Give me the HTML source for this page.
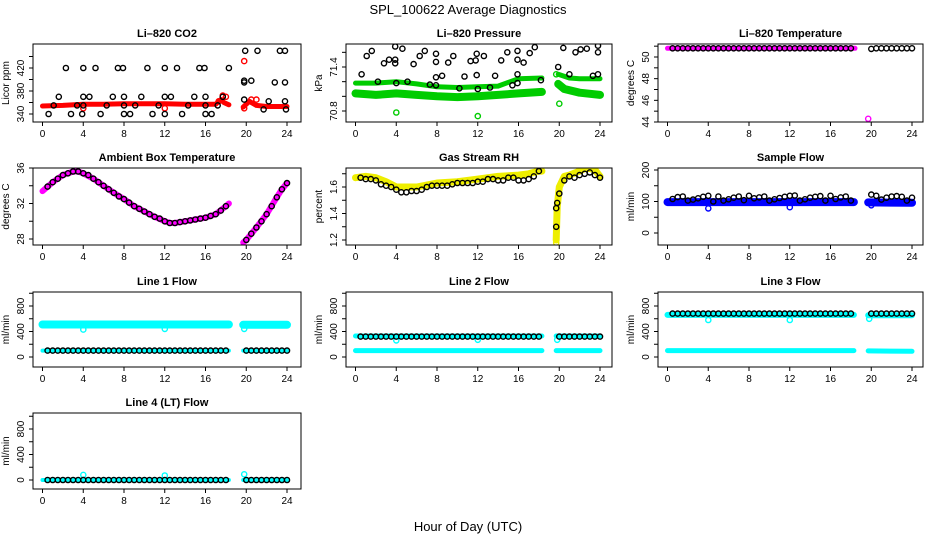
<!DOCTYPE html>
<html><head><meta charset="utf-8"><style>
body{margin:0;background:#fff}
svg{display:block;font-family:"Liberation Sans",sans-serif}
</style></head><body>
<svg id="chart" width="936" height="540" viewBox="0 0 936 540" xmlns="http://www.w3.org/2000/svg">
<rect width="936" height="540" fill="#fff"/>
<text x="468" y="14" font-size="13" text-anchor="middle">SPL_100622  Average Diagnostics</text>
<text x="468" y="531" font-size="13" text-anchor="middle">Hour of Day (UTC)</text>
</svg>
<script>
const hrs=[0.5,1,1.5,2,2.5,3,3.5,4,4.5,5,5.5,6,6.5,7,7.5,8,8.5,9,9.5,10,10.5,11,11.5,12,12.5,13,13.5,14,14.5,15,15.5,16,16.5,17,17.5,18,20,20.5,21,21.5,22,22.5,23,23.5,24];
const xTicks=[0,4,8,12,16,20,24];
// CO2
const co2BandH=[0,2,4,6,8,10,12,14,16,17,17.5,17.8,18.3,null,19.7,20.3,21,22,24];
const co2BandV=[354,355,357,357,358,358,358,357,357,357,365,360,356,null,352,362,355,353,353];
const co2RedH=[4,12,19.8,19.8,20.5,21,17.7,18,17.3];
const co2RedV=[350,350,432,350,365,365,372,370,362];
const co2BlkH=[0.6,1.1,1.6,2.3,2.8,3.4,3.9,4,4,4,4.6,5.2,5.7,6.3,6.9,7.4,7.9,8,8,8,8.6,9.1,9.7,10.3,10.8,11.4,12,12,12,12.6,13.2,13.7,14.3,14.9,15.4,15.9,16,16,16,16.6,17.2,17.7,18.3,19.8,19.8,19.8,19.9,20.5,21.1,21.7,22.2,22.8,23.3,23.8,23.8,23.8,23.9];
const co2BlkV=[340,355,370,420,340,355,340,420,370,355,370,420,340,355,370,420,420,370,355,340,340,355,370,420,340,355,340,370,420,370,420,340,355,370,420,420,370,355,340,340,355,370,420,395,398,365,450,398,450,348,362,395,450,450,395,362,348];
// Pressure
const prUpH=[0,2,4,6,8,10,12,14,16,18.3,null,19.9,21,22,24];
const prUpV=[71.18,71.18,71.2,71.17,71.13,71.12,71.13,71.14,71.24,71.25,null,71.3,71.25,71.24,71.24];
const prLoH=[0,2,4,6,8,10,12,14,16,18.3,null,19.9,20.5,22,24];
const prLoV=[71.04,71.02,71.04,71.02,71.0,70.99,71.0,71.02,71.04,71.06,null,71.17,71.1,71.05,71.02];
const prGrnH=[4,12,20,19.7];
const prGrnV=[70.78,70.73,70.9,71.3];
const prBlkH=[0.6,1.1,1.6,2.2,2.8,3.3,3.9,3.9,3.9,4,4.6,5.1,5.7,6.3,6.8,7.3,7.9,7.9,7.9,7.9,8.5,9.1,9.6,10.2,10.7,11.3,11.8,11.9,11.9,12,12.6,13.2,13.7,14.3,14.9,15.4,15.9,15.9,15.9,15.9,16.5,17.1,17.6,18.2,19.8,19.8,19.9,20.4,21,21.6,22.1,22.7,23.3,23.8,23.8,23.8];
const prBlkV=[71.3,71.55,71.62,71.2,71.45,71.5,71.5,71.68,71.45,71.18,71.65,71.2,71.44,71.55,71.62,71.16,71.58,71.47,71.15,71.26,71.28,71.46,71.55,71.11,71.27,71.48,71.49,71.58,71.29,71.1,71.55,71.12,71.28,71.49,71.6,71.15,71.62,71.5,71.3,71.18,71.46,71.59,71.67,71.22,71.78,71.8,71.4,71.66,71.3,71.6,71.64,71.65,71.28,71.69,71.6,71.3];
// Li-820 temperature
const tBandH=[0,18.4];
const tBandV=[50.8,50.8];
const tMagH=[19.7];
const tMagV=[44.3];
const tBlkV=[50.8,50.8,50.8,50.8,50.8,50.8,50.8,50.8,50.8,50.8,50.8,50.8,50.8,50.8,50.8,50.8,50.8,50.8,50.8,50.8,50.8,50.8,50.8,50.8,50.8,50.8,50.8,50.8,50.8,50.8,50.8,50.8,50.8,50.8,50.8,50.8,50.75,50.8,50.8,50.8,50.8,50.8,50.8,50.8,50.8];
// Ambient
const ambBandH=[0,1,2,3,3.5,4,5,6,7,8,9,10,11,12,12.5,13,14,15,16,17,18,18.3,null,19.7,20,21,22,23,23.5,24];
const ambBandV=[33.4,34.4,35.2,35.6,35.6,35.4,34.8,34.0,33.2,32.5,31.7,31.1,30.5,30.0,29.8,29.8,30.0,30.2,30.4,30.8,31.7,32.0,null,27.6,27.9,29.3,30.8,32.7,33.6,34.3];
const ambBlkV=[33.9,34.4,34.8,35.2,35.4,35.6,35.6,35.4,35.2,34.8,34.4,34.0,33.6,33.2,32.8,32.5,32.1,31.7,31.4,31.1,30.8,30.5,30.3,30.0,29.8,29.8,29.9,30.0,30.1,30.2,30.3,30.4,30.6,30.8,31.2,31.7,27.9,28.6,29.3,30.0,30.8,31.7,32.7,33.6,34.3];
// RH
const rhBandH=[0,1,2,3,4,4.5,6,8,10,12,14,16,17,18,18.3,null,19.7,19.8,20,20.5,21,22,22.5,23,23.5,24];
const rhBandV=[1.67,1.68,1.67,1.64,1.6,1.6,1.6,1.63,1.64,1.66,1.68,1.69,1.7,1.72,1.72,null,1.2,1.45,1.6,1.68,1.69,1.72,1.74,1.74,1.73,1.68];
const rhYelH=[19.7];
const rhYelV=[1.18];
const rhBlkV=[1.67,1.66,1.66,1.65,1.62,1.61,1.60,1.58,1.56,1.56,1.57,1.57,1.58,1.6,1.61,1.61,1.61,1.61,1.62,1.63,1.63,1.63,1.63,1.64,1.64,1.66,1.66,1.65,1.65,1.67,1.67,1.65,1.65,1.66,1.68,1.72,1.55,1.65,1.68,1.67,1.69,1.70,1.71,1.69,1.67];
const rhExtraH=[19.7,19.7,19.8];
const rhExtraV=[1.3,1.44,1.48];
// Sample flow
const sfBandH=[0,18.3,null,19.7,24];
const sfBandV=[98,98,null,97,96];
const sfBlueH=[4,12,20];
const sfBlueV=[78,82,88];
const sfBlkV=[108,114,116,103,106,110,115,118,100,116,103,107,112,116,104,118,110,113,116,103,107,111,115,118,119,103,107,112,115,117,103,118,108,113,116,103,122,118,106,112,116,117,115,103,112];
// Line flows
const flowBandH=[0,18.3,null,19.7,24];
const l1UpV=[510,510,null,505,505];
const l1LoV=[100,100,null,100,100];
const l1OutV=[430,440,440];
const l1BlkV=[100,100,100,100,100,100,100,100,100,100,100,100,100,100,100,100,100,100,100,100,100,100,100,100,100,100,100,100,100,100,100,100,100,100,100,100,100,100,100,100,100,100,100,100,100];
const l2UpV=[330,330,null,330,330];
const l2LoV=[100,100,null,100,100];
const l2OutV=[260,270,270];
const l2BlkV=[320,320,320,320,320,320,320,320,320,320,320,320,320,320,320,320,320,320,320,320,320,320,320,320,320,320,320,320,320,320,320,320,320,320,320,320,320,320,320,320,320,320,320,320,320];
const l3UpV=[660,660,null,655,655];
const l3LoV=[100,100,null,95,90];
const l3OutV=[580,580,600];
const l3BlkV=[680,680,680,680,680,680,680,680,680,680,680,680,680,680,680,680,680,680,680,680,680,680,680,680,680,680,680,680,680,680,680,680,680,680,680,680,680,680,680,680,680,680,680,680,680];
const l4BandV=[0,0,null,0,0];
const l4OutV=[80,70,90];
const l4BlkV=[0,0,0,0,0,0,0,0,0,0,0,0,0,0,0,0,0,0,0,0,0,0,0,0,0,0,0,0,0,0,0,0,0,0,0,0,0,0,0,0,0,0,0,0,0];
const outH=[4,12,19.8];

const NS='http://www.w3.org/2000/svg';
const svg=document.getElementById('chart');
function mk(tag,attrs,parent){const e=document.createElementNS(NS,tag);for(const k in attrs)e.setAttribute(k,attrs[k]);(parent||svg).appendChild(e);return e;}

function panel(cfg){
  const g=mk('g',{});
  
  
  const L=cfg.left,R=cfg.left+cfg.w,T=cfg.top,B=cfg.bottom;
  const xs=h=>L+9.5+(h/24)*244.5;
  const ys=v=>cfg.p0+(v-cfg.v0)*(cfg.p1-cfg.p0)/(cfg.v1-cfg.v0);
  const clip='c'+cfg.name;
  const cp=mk('clipPath',{id:clip},g);mk('rect',{x:L,y:T,width:R-L,height:B-T},cp);
  const plot=mk('g',{'clip-path':'url(#'+clip+')'},g);
  // bands
  (cfg.bands||[]).forEach(b=>{
    let d='',pen=false;
    b.h.forEach((h,i)=>{ if(h===null||b.v[i]===null){pen=false;return;} d+=(pen?'L':'M')+xs(h).toFixed(1)+' '+ys(b.v[i]).toFixed(1);pen=true;});
    const p=mk('path',{d:d,fill:'none',stroke:b.color,'stroke-width':b.w,'stroke-linecap':'round','stroke-linejoin':'round'},plot);
    
    
  });
  (cfg.pts||[]).forEach(s=>{
    const sg=mk('g',{},plot);
    
    
    s.h.forEach((h,i)=>{
      const c=mk('circle',{cx:xs(h).toFixed(1),cy:ys(s.v[i]).toFixed(1),r:2.6,fill:'none',stroke:s.color,'stroke-width':1.4},sg);
      
      
    });
  });
  const box=mk('rect',{x:L,y:T,width:R-L,height:B-T,fill:'none',stroke:'#000','stroke-width':1},g);
  
  
  const ttl=mk('text',{x:(L+R)/2,y:T-7,'font-size':11,'font-weight':'bold','text-anchor':'middle'},g);
  ttl.textContent=cfg.title;
  
  
  const ax=mk('g',{},g);
  
  
  xTicks.forEach(t=>{
    mk('line',{x1:xs(t),x2:xs(t),y1:B,y2:B+4,stroke:'#000'},ax);
    const tx=mk('text',{x:xs(t),y:B+15,'font-size':10,'text-anchor':'middle'},ax);tx.textContent=t;
  });
  mk('line',{x1:xs(0),x2:xs(24),y1:B,y2:B,stroke:'#000'},ax);
  const ay=mk('g',{},g);
  
  
  cfg.ticks.forEach(t=>{mk('line',{x1:L-4,x2:L,y1:ys(t),y2:ys(t),stroke:'#000'},ay);});
  mk('line',{x1:L,x2:L,y1:ys(cfg.ticks[0]),y2:ys(cfg.ticks[cfg.ticks.length-1]),stroke:'#000'},ay);
  cfg.labels.forEach(t=>{
    const yy=ys(t);
    const tx=mk('text',{x:L-9,y:yy,'font-size':10,'text-anchor':'middle',transform:'rotate(-90 '+(L-9)+' '+yy+')'},ay);tx.textContent=cfg.fmt?t.toFixed(1):t;
  });
  const yl=mk('text',{x:L-24,y:(T+B)/2,'font-size':10,'text-anchor':'middle',transform:'rotate(-90 '+(L-24)+' '+((T+B)/2)+')'},g);
  yl.textContent=cfg.ylab;
  
  
}
const C=[33,346,658],W=[268,266,265];
panel({name:'co2-panel',title:'Li\u2013820 CO2',ylab:'Licor ppm',left:C[0],w:W[0],top:44,bottom:122,v0:340,p0:114,v1:420,p1:68,ticks:[340,360,380,400,420,440],labels:[340,380,420],
 bands:[{name:'co2-red-band',h:co2BandH,v:co2BandV,color:'#f00',w:5}],
 pts:[{name:'co2-red-points',h:co2RedH,v:co2RedV,color:'#f00'},{name:'co2-black-points',h:co2BlkH,v:co2BlkV,color:'#000'}]});
panel({name:'pressure-panel',title:'Li\u2013820 Pressure',ylab:'kPa',left:C[1],w:W[1],top:44,bottom:122,v0:70.8,p0:111,v1:71.4,p1:67,ticks:[70.8,71.0,71.2,71.4,71.6],labels:[70.8,71.4],fmt:true,
 bands:[{name:'pressure-upper-band',h:prUpH,v:prUpV,color:'#0c0',w:5},{name:'pressure-lower-band',h:prLoH,v:prLoV,color:'#0c0',w:8}],
 pts:[{name:'pressure-green-points',h:prGrnH,v:prGrnV,color:'#0c0'},{name:'pressure-black-points',h:prBlkH,v:prBlkV,color:'#000'}]});
panel({name:'temperature-panel',title:'Li\u2013820 Temperature',ylab:'degrees C',left:C[2],w:W[2],top:44,bottom:122,v0:44,p0:122,v1:50,p1:57,ticks:[44,45,46,47,48,49,50,51],labels:[44,46,48,50],
 bands:[{name:'temp-magenta-band',h:tBandH,v:tBandV,color:'#f0f',w:5}],
 pts:[{name:'temp-magenta-points',h:tMagH,v:tMagV,color:'#f0f'},{name:'temp-black-points',h:hrs,v:tBlkV,color:'#000'}]});
panel({name:'ambient-panel',title:'Ambient Box Temperature',ylab:'degrees C',left:C[0],w:W[0],top:168,bottom:245,v0:28,p0:239,v1:36,p1:168,ticks:[28,30,32,34,36],labels:[28,32,36],
 bands:[{name:'ambient-magenta-band',h:ambBandH,v:ambBandV,color:'#f0f',w:6}],
 pts:[{name:'ambient-black-points',h:hrs,v:ambBlkV,color:'#000'}]});
panel({name:'rh-panel',title:'Gas Stream RH',ylab:'percent',left:C[1],w:W[1],top:168,bottom:245,v0:1.2,p0:240,v1:1.6,p1:187,ticks:[1.2,1.3,1.4,1.5,1.6,1.7],labels:[1.2,1.4,1.6],fmt:true,
 bands:[{name:'rh-yellow-band',h:rhBandH,v:rhBandV,color:'#ee0',w:7}],
 pts:[{name:'rh-yellow-points',h:rhYelH,v:rhYelV,color:'#ee0'},{name:'rh-black-points',h:hrs,v:rhBlkV,color:'#000'},{name:'rh-black-extra',h:rhExtraH,v:rhExtraV,color:'#000'}]});
panel({name:'sample-flow-panel',title:'Sample Flow',ylab:'ml/min',left:C[2],w:W[2],top:168,bottom:245,v0:0,p0:233,v1:200,p1:170,ticks:[0,50,100,150,200],labels:[0,100,200],
 bands:[{name:'sample-blue-band',h:sfBandH,v:sfBandV,color:'#00f',w:8}],
 pts:[{name:'sample-blue-points',h:sfBlueH,v:sfBlueV,color:'#00f'},{name:'sample-black-points',h:hrs,v:sfBlkV,color:'#000'}]});
const fT=[0,200,400,600,800,1000],fL=[0,400,800];
panel({name:'line1-panel',title:'Line 1 Flow',ylab:'ml/min',left:C[0],w:W[0],top:292,bottom:367,v0:0,p0:357,v1:800,p1:306,ticks:fT,labels:fL,
 bands:[{name:'line1-upper-band',h:flowBandH,v:l1UpV,color:'#0ff',w:8},{name:'line1-lower-band',h:flowBandH,v:l1LoV,color:'#0ff',w:4}],
 pts:[{name:'line1-cyan-points',h:outH,v:l1OutV,color:'#0ff'},{name:'line1-black-points',h:hrs,v:l1BlkV,color:'#000'}]});
panel({name:'line2-panel',title:'Line 2 Flow',ylab:'ml/min',left:C[1],w:W[1],top:292,bottom:367,v0:0,p0:357,v1:800,p1:306,ticks:fT,labels:fL,
 bands:[{name:'line2-upper-band',h:flowBandH,v:l2UpV,color:'#0ff',w:5},{name:'line2-lower-band',h:flowBandH,v:l2LoV,color:'#0ff',w:5}],
 pts:[{name:'line2-cyan-points',h:outH,v:l2OutV,color:'#0ff'},{name:'line2-black-points',h:hrs,v:l2BlkV,color:'#000'}]});
panel({name:'line3-panel',title:'Line 3 Flow',ylab:'ml/min',left:C[2],w:W[2],top:292,bottom:367,v0:0,p0:357,v1:800,p1:306,ticks:fT,labels:fL,
 bands:[{name:'line3-upper-band',h:flowBandH,v:l3UpV,color:'#0ff',w:6},{name:'line3-lower-band',h:flowBandH,v:l3LoV,color:'#0ff',w:5}],
 pts:[{name:'line3-cyan-points',h:outH,v:l3OutV,color:'#0ff'},{name:'line3-black-points',h:hrs,v:l3BlkV,color:'#000'}]});
panel({name:'line4-panel',title:'Line 4 (LT) Flow',ylab:'ml/min',left:C[0],w:W[0],top:413,bottom:489,v0:0,p0:480,v1:800,p1:429,ticks:fT,labels:fL,
 bands:[{name:'line4-cyan-band',h:flowBandH,v:l4BandV,color:'#0ff',w:4}],
 pts:[{name:'line4-cyan-points',h:outH,v:l4OutV,color:'#0ff'},{name:'line4-black-points',h:hrs,v:l4BlkV,color:'#000'}]});
</script>
</body></html>
